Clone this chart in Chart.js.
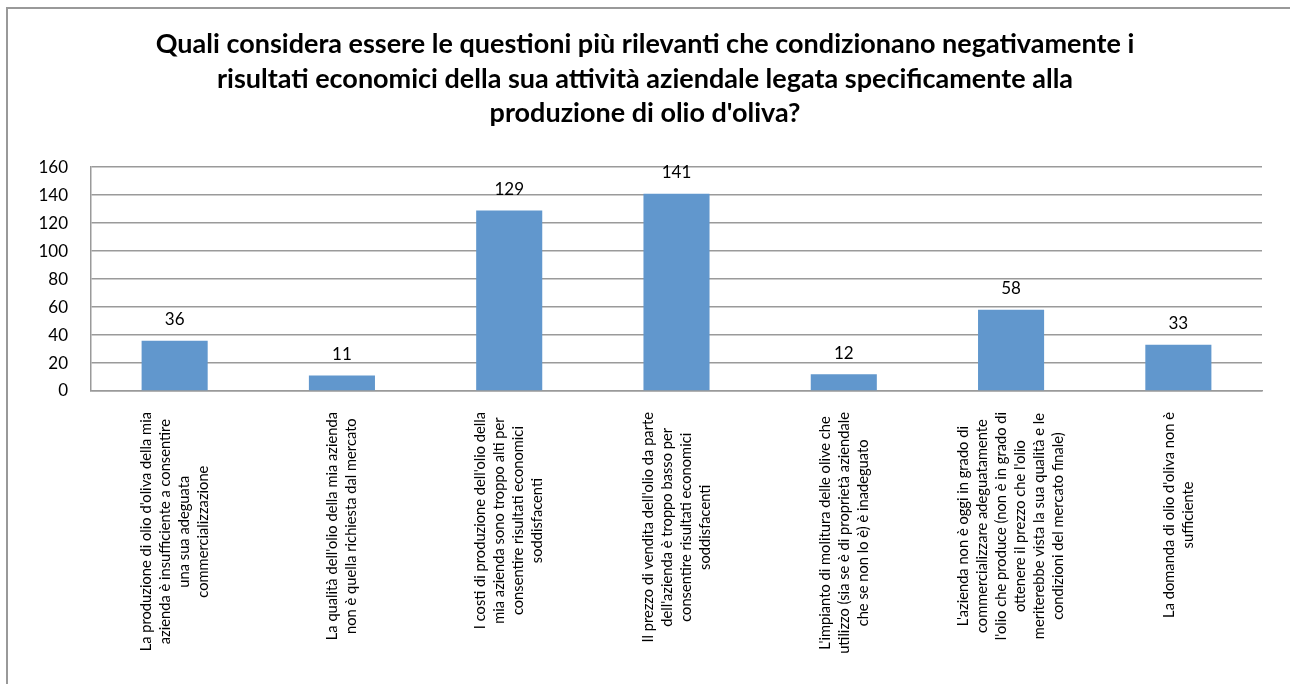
<!DOCTYPE html>
<html>
<head>
<meta charset="utf-8">
<script src="https://cdn.jsdelivr.net/npm/chart.js@4/dist/chart.umd.min.js"></script>
<style>
    body { margin: 0; background: #fff; }
    #wrap { position: relative; width: 1290px; height: 684px; }
</style>
</head>
<body>
<div id="wrap"><canvas id="questionsChart"></canvas></div>
<script>
    //dati
    const titleLines = [
        "Quali considera essere le questioni più rilevanti che condizionano negativamente i",
        "risultati economici della sua attività aziendale legata specificamente alla",
        "produzione di olio d'oliva?"
    ];

    const categories = [
        ["La produzione di olio d'oliva della mia", "azienda è insufficiente a consentire", "una sua adeguata", "commercializzazione"],
        ["La qualità dell'olio della mia azienda", "non è quella richiesta dal mercato"],
        ["I costi di produzione dell'olio della", "mia azienda sono troppo alti per", "consentire risultati economici", "soddisfacenti"],
        ["Il prezzo di vendita dell'olio da parte", "dell'azienda è troppo basso per", "consentire risultati economici", "soddisfacenti"],
        ["L'impianto di molitura delle olive che", "utilizzo (sia se è di proprietà aziendale", "che se non lo è) è inadeguato"],
        ["L'azienda non è oggi in grado di", "commercializzare adeguatamente", "l'olio che produce (non è in grado di", "ottenere il prezzo che l'olio", "meriterebbe vista la sua qualità e le", "condizioni del mercato finale)"],
        ["La domanda di olio d'oliva non è", "sufficiente"]
    ];

    const answers = [36, 11, 129, 141, 12, 58, 33];

    const yMin = 0;
    const yMax = 160;
    const yStep = 20;

    const fontName = "Lato, 'Open Sans', sans-serif";

    //cornice esterna (solo sinistra e sopra)
    const frame = {
        id: 'frame',
        beforeDraw(chart) {
            const ctx = chart.ctx;
            ctx.save();
            ctx.strokeStyle = '#999999';
            ctx.lineWidth = 2;
            ctx.beginPath();
            ctx.moveTo(7, chart.height);
            ctx.lineTo(7, 8);
            ctx.lineTo(chart.width, 8);
            ctx.stroke();
            ctx.restore();
        }
    };

    //valori sopra le barre
    const valueLabels = {
        id: 'valueLabels',
        afterDatasetsDraw(chart) {
            const ctx = chart.ctx;
            const meta = chart.getDatasetMeta(0);
            ctx.save();
            ctx.font = '17px ' + fontName;
            ctx.fillStyle = '#000';
            ctx.textAlign = 'center';
            ctx.textBaseline = 'middle';
            meta.data.forEach((bar, i) => {
                ctx.fillText(chart.data.datasets[0].data[i], bar.x, bar.y - 21);
            });
            ctx.restore();
        }
    };

    //etichette categorie ruotate, righe centrate
    const rotatedLabels = {
        id: 'rotatedLabels',
        afterDraw(chart) {
            const ctx = chart.ctx;
            const xScale = chart.scales.x;
            const lineHeight = 19;
            ctx.save();
            ctx.font = '14.7px ' + fontName;
            ctx.fillStyle = '#000';
            ctx.textAlign = 'center';
            ctx.textBaseline = 'middle';
            categories.forEach((lines, i) => {
                const x = xScale.getPixelForTick(i);
                const widest = Math.max(...lines.map(l => ctx.measureText(l).width));
                ctx.save();
                ctx.translate(x, chart.chartArea.bottom + 21);
                ctx.rotate(-Math.PI / 2);
                lines.forEach((line, j) => {
                    ctx.fillText(line, -widest / 2, (j - (lines.length - 1) / 2) * lineHeight);
                });
                ctx.restore();
            });
            ctx.restore();
        }
    };

    //Chart.js
    let chartContext = document.getElementById('questionsChart');
    let questionsChart = new Chart(chartContext, {
        type: 'bar',
        data: {
            labels: categories,
            datasets: [{
                data: answers,
                backgroundColor: '#6197CD',
                borderWidth: 0,
                categoryPercentage: 1,
                barPercentage: 0.395
            }]
        },
        plugins: [frame, valueLabels, rotatedLabels],
        options: {
            responsive: true,
            maintainAspectRatio: false,
            animation: false,
            layout: {
                padding: { left: 28, right: 28, top: 0, bottom: 0 }
            },
            plugins: {
                legend: { display: false },
                tooltip: { enabled: false },
                title: {
                    display: true,
                    text: titleLines,
                    color: '#000',
                    font: { family: fontName, size: 27, weight: 'bold', lineHeight: 1.28 },
                    padding: { top: 27, bottom: 36.5 }
                }
            },
            scales: {
                x: {
                    grid: { display: false },
                    border: { display: true, color: '#9a9a9a', width: 1.5 },
                    ticks: { display: false },
                    afterFit: scale => { scale.height = 293; }
                },
                y: {
                    min: yMin,
                    max: yMax,
                    grid: { color: '#9a9a9a', lineWidth: 1.5, drawTicks: false },
                    border: { display: true, color: '#9a9a9a', width: 1.5 },
                    ticks: {
                        stepSize: yStep,
                        padding: 23,
                        color: '#000',
                        font: { family: fontName, size: 17 }
                    },
                    afterFit: scale => { scale.width = 63; }
                }
            }
        }
    });
    //Chart.js
</script>
</body>
</html>
